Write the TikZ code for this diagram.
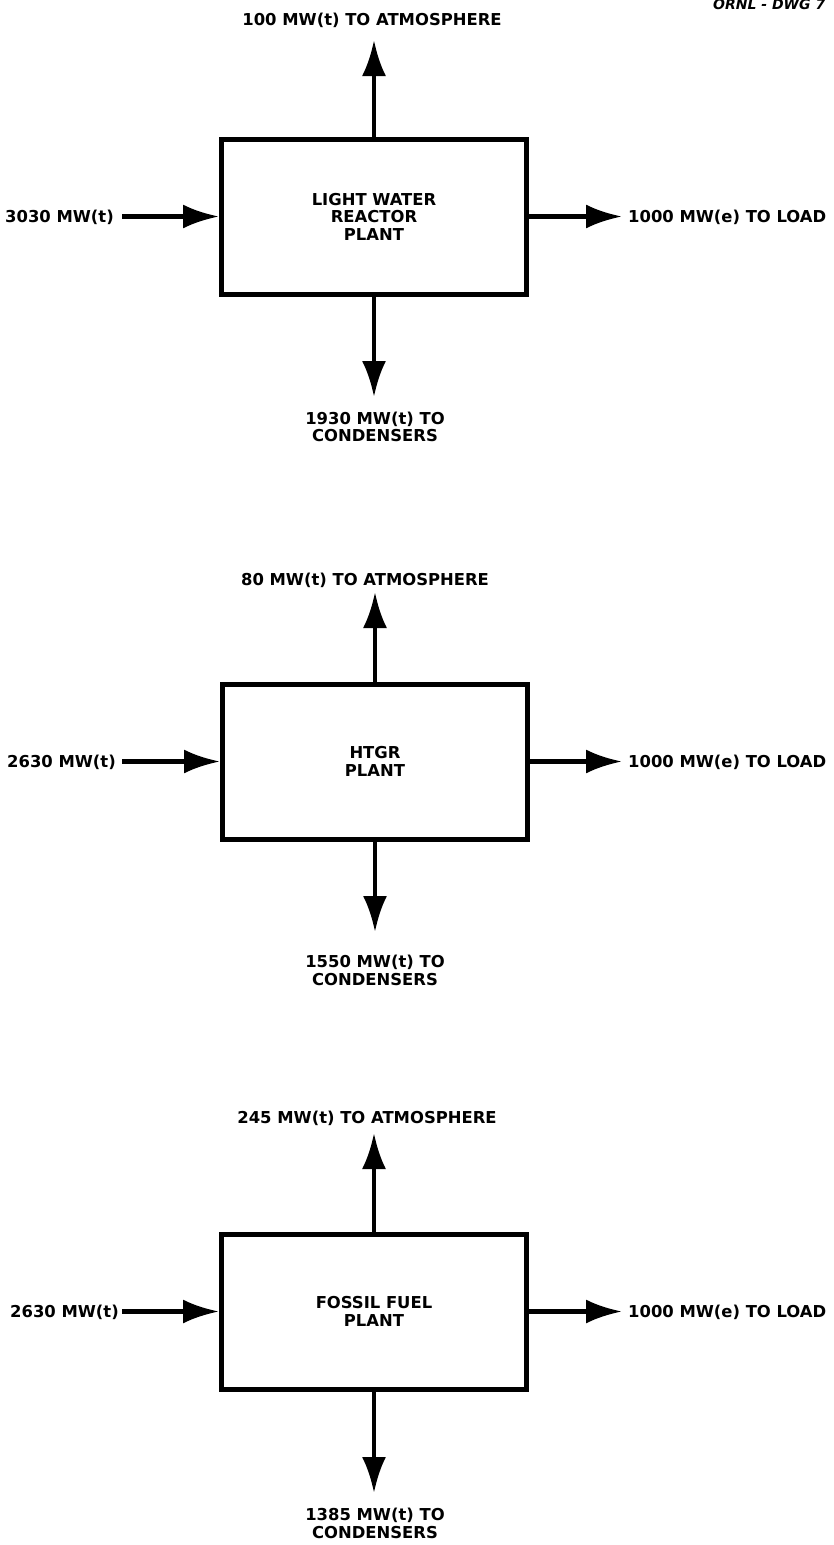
\documentclass[tikz,border=0pt]{standalone}
\usepackage{fontspec}
\setmainfont{DejaVu Sans}
\usetikzlibrary{arrows.meta}

\newcommand{\lblsize}{\bfseries\fontsize{16.4}{17.5}\selectfont}

\begin{document}
\begin{tikzpicture}[
        x=1pt, y=-1pt,
        plant/.style={draw, line width=5pt, minimum width=305pt, minimum height=155pt, align=center, font=\lblsize, inner sep=0pt},
        flow/.style={draw, line width=4.5pt, -{Latex[length=36pt,width=24pt]}},
        lbl/.style={font=\lblsize, inner sep=0pt, anchor=base},
        sidelbl/.style={lbl, anchor=base west},
        outlbl/.style={font=\lblsize, inner sep=0pt, anchor=north, align=center},
    ]
    \useasboundingbox (0,0) rectangle (833,1545);
    \node[font=\bfseries\itshape\fontsize{14}{14}\selectfont, anchor=base west, inner sep=0pt] (dwg) at (713,9) {ORNL - DWG 7};

    % light water reactor plant
    \node[plant] (lwr) at (374,216.5) {LIGHT WATER\\REACTOR\\PLANT};
    \node[lbl] (lwratm) at (372,25) {100 MW(t) TO ATMOSPHERE};
    \node[sidelbl] (lwrin) at (5,222.5) {3030 MW(t)};
    \node[sidelbl] (lwrload) at (628,222.5) {1000 MW(e) TO LOAD};
    \node[outlbl] (lwrcond) at (375,411.5) {1930 MW(t) TO\\CONDENSERS};
    \coordinate (lwrtop) at (374,40);
    \coordinate (lwrbot) at (374,397);
    \coordinate (lwrsrc) at (122,216.5);
    \draw[flow] (lwr.north) -- (lwrtop);
    \draw[flow] (lwr.south) -- (lwrbot);
    \draw[flow] (lwrsrc) -- (lwr.west);
    \draw[flow, shorten >=6pt] (lwr.east) -- (lwr.east -| lwrload.west);

    % htgr plant
    \node[plant] (htgr) at (375,761.5) {HTGR\\PLANT};
    \node[lbl] (htgratm) at (365,585) {80 MW(t) TO ATMOSPHERE};
    \node[sidelbl] (htgrin) at (7,767.5) {2630 MW(t)};
    \node[sidelbl] (htgrload) at (628,767.5) {1000 MW(e) TO LOAD};
    \node[outlbl] (htgrcond) at (375,955) {1550 MW(t) TO\\CONDENSERS};
    \coordinate (htgrtop) at (375,592);
    \coordinate (htgrbot) at (375,932);
    \coordinate (htgrsrc) at (122,761.5);
    \draw[flow] (htgr.north) -- (htgrtop);
    \draw[flow] (htgr.south) -- (htgrbot);
    \draw[flow] (htgrsrc) -- (htgr.west);
    \draw[flow, shorten >=6pt] (htgr.east) -- (htgr.east -| htgrload.west);

    % fossil fuel plant
    \node[plant] (ffp) at (374,1311.5) {FOSSIL FUEL\\PLANT};
    \node[lbl] (ffpatm) at (367,1123) {245 MW(t) TO ATMOSPHERE};
    \node[sidelbl] (ffpin) at (10,1317.5) {2630 MW(t)};
    \node[sidelbl] (ffpload) at (628,1317.5) {1000 MW(e) TO LOAD};
    \node[outlbl] (ffpcond) at (375,1508) {1385 MW(t) TO\\CONDENSERS};
    \coordinate (ffptop) at (374,1133);
    \coordinate (ffpbot) at (374,1493);
    \coordinate (ffpsrc) at (122,1311.5);
    \draw[flow] (ffp.north) -- (ffptop);
    \draw[flow] (ffp.south) -- (ffpbot);
    \draw[flow] (ffpsrc) -- (ffp.west);
    \draw[flow, shorten >=6pt] (ffp.east) -- (ffp.east -| ffpload.west);
\end{tikzpicture}
\end{document}
